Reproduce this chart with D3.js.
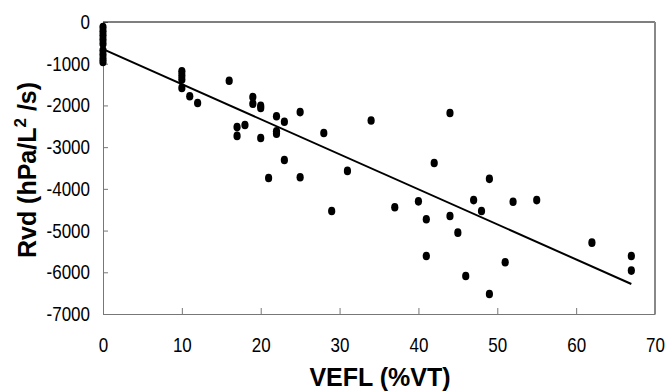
<!DOCTYPE html>
<html>
<head>
<meta charset="utf-8">
<script src="https://cdn.jsdelivr.net/npm/d3@7"></script>
<style>
  body { margin: 0; background: #fff; }
  .tick text { font-family: "Liberation Sans", Arial, sans-serif; font-size: 17px; fill: #000; }
  .title { font-family: "Liberation Sans", Arial, sans-serif; font-weight: bold; font-size: 25px; fill: #000; }
</style>
</head>
<body>
<script>
var width = 665;
var height = 392;

// measurements: VEFL (%VT) against Rvd (hPa/L2/s)
var vefl = [0, 0, 0, 0, 0, 0, 0, 0, 0,
    10, 10, 10, 10, 11, 12, 16, 17, 17, 18,
    19, 19, 20, 20, 20, 21, 22, 22, 22, 23, 23,
    25, 25, 28, 29, 31, 34, 37, 40, 41, 41, 42,
    44, 44, 45, 46, 47, 48, 49, 49, 51, 52, 55, 62, 67, 67];
var rvd = [-120, -220, -320, -420, -520, -680, -780, -880, -960,
    -1180, -1280, -1380, -1580, -1780, -1940, -1410, -2520, -2730, -2470,
    -1800, -1960, -2010, -2060, -2780, -3740, -2260, -2620, -2680, -2390, -3310,
    -2160, -3720, -2660, -4530, -3570, -2360, -4440, -4300, -4730, -5610, -3380,
    -2180, -4650, -5050, -6090, -4270, -4530, -3760, -6520, -5760, -4310, -4270, -5290, -5610, -5960];

// regression line end points
var fitX = [0, 67];
var fitY = [-650, -6280];

var xTicks = [0, 10, 20, 30, 40, 50, 60, 70];
var yTicks = [-7000, -6000, -5000, -4000, -3000, -2000, -1000, 0];

var plotLeft = 103, plotRight = 655, plotTop = 22, plotBottom = 314;

var svg = d3.select("body").append("svg")
    .attr("width", width)
    .attr("height", height);

var xScale = d3.scaleLinear().domain([0, 70]).range([plotLeft, plotRight]);
var yScale = d3.scaleLinear().domain([-7000, 0]).range([plotBottom, plotTop]);

var xAxis = d3.axisBottom(xScale).tickValues(xTicks).tickFormat(d => String(d))
    .tickSize(-6).tickSizeOuter(0).tickPadding(19.6);
var yAxis = d3.axisLeft(yScale).tickValues(yTicks).tickFormat(d => String(d))
    .tickSize(-5).tickSizeOuter(0).tickPadding(13);

var gx = svg.append("g")
    .attr("transform", "translate(0," + plotBottom + ")")
    .call(xAxis);
var gy = svg.append("g")
    .attr("transform", "translate(" + plotLeft + ",0)")
    .call(yAxis);

// tick labels in the picture are tall and narrow
gx.selectAll(".tick text").attr("transform", "scale(1,1.2)");
gy.selectAll(".tick text").attr("transform", "scale(1,1.2)");

gx.selectAll("path, line").attr("stroke", "#777");
gy.selectAll("path, line").attr("stroke", "#777");
gx.selectAll(".tick").filter(d => d === 70).select("line").remove();

// frame top and right
svg.append("line")
    .attr("x1", plotLeft).attr("x2", plotRight)
    .attr("y1", plotTop).attr("y2", plotTop)
    .attr("stroke", "#000").attr("stroke-width", 1.2);
svg.append("line")
    .attr("x1", plotRight).attr("x2", plotRight)
    .attr("y1", plotTop).attr("y2", plotBottom)
    .attr("stroke", "#888").attr("stroke-width", 2);

var data = vefl.map(function (v, i) {
    return { x: v, y: rvd[i] };
});

svg.selectAll("ellipse")
    .data(data)
    .enter().append("ellipse")
    .attr("cx", d => xScale(d.x))
    .attr("cy", d => yScale(d.y))
    .attr("rx", 3.6)
    .attr("ry", 4.3)
    .attr("fill", "#000");

var fit = fitX.map(function (v, i) { return { x: v, y: fitY[i] }; });
var line = d3.line()
    .x(d => xScale(d.x))
    .y(d => yScale(d.y));

svg.append("path")
    .datum(fit)
    .attr("fill", "none")
    .attr("stroke", "#000")
    .attr("stroke-width", 2)
    .attr("d", line);

svg.append("text")
    .attr("class", "title")
    .attr("x", 380)
    .attr("y", 386)
    .attr("text-anchor", "middle")
    .text("VEFL (%VT)");

var yt = svg.append("text")
    .attr("class", "title")
    .attr("text-anchor", "middle")
    .attr("transform", "translate(36,170) rotate(-90)");
yt.append("tspan").text("Rvd (hPa/L");
yt.append("tspan").attr("font-size", "17px").attr("dy", -10).text("2");
yt.append("tspan").attr("dy", 10).text(" /s)");
</script>
</body>
</html>
